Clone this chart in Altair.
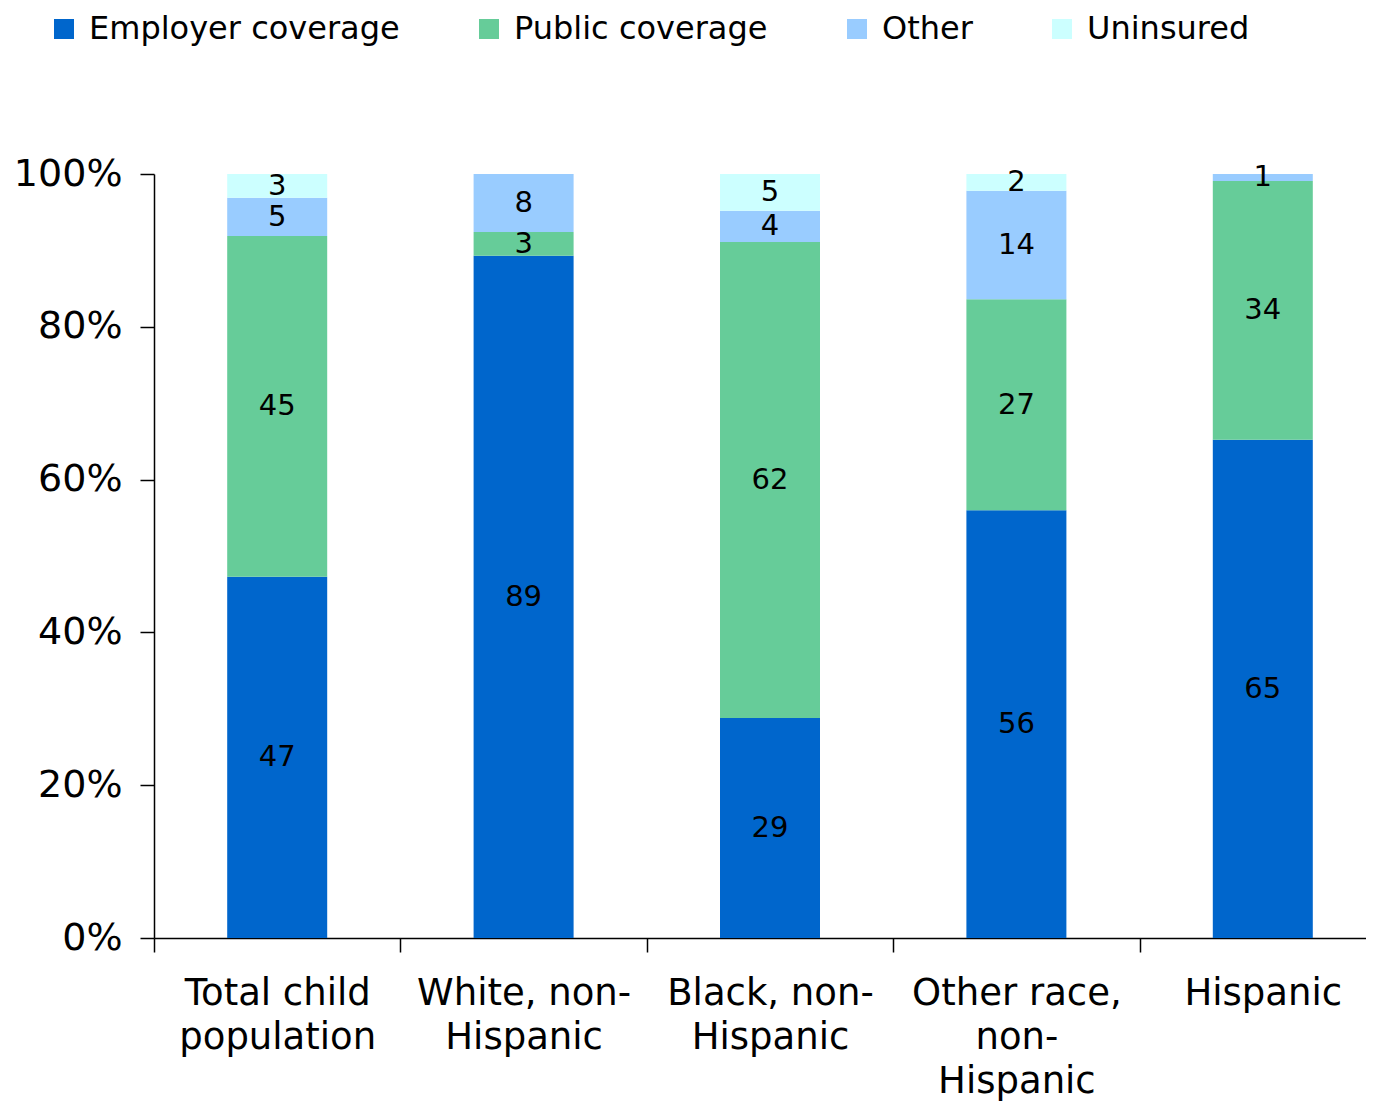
import altair as alt
import pandas as pd

categories = ["Total child population", "White, non-Hispanic", "Black, non-Hispanic",
              "Other race, non-Hispanic", "Hispanic"]
category_lines = [["Total child", "population"], ["White, non-", "Hispanic"],
                  ["Black, non-", "Hispanic"], ["Other race,", "non-", "Hispanic"], ["Hispanic"]]
series = ["Employer coverage", "Public coverage", "Other", "Uninsured"]
colors = ["#0066CC", "#66CC99", "#99CCFF", "#CCFFFF"]

employer = [47.3, 89.3, 28.8, 56.0, 65.2]
public = [44.6, 3.1, 62.3, 27.6, 33.9]
other = [5.0, 7.6, 4.1, 14.2, 0.9]
uninsured = [3.1, 0.0, 4.8, 2.2, 0.0]
labels = [[47, 45, 5, 3], [89, 3, 8, 0], [29, 62, 4, 5], [56, 27, 14, 2], [65, 34, 1, 0]]

rows = []
for si, (name, vals) in enumerate(zip(series, [employer, public, other, uninsured])):
    for ci, cat in enumerate(categories):
        rows.append({"category": cat, "series": name, "value": vals[ci], "order": si,
                     "label": labels[ci][si]})
df = pd.DataFrame(rows)

label_map = "{" + ", ".join(
    "'" + c + "': [" + ", ".join("'" + l + "'" for l in lines) + "]"
    for c, lines in zip(categories, category_lines)) + "}"

FONT = "DejaVu Sans"

base = alt.Chart(df).transform_stack(
    stack="value", as_=["y0", "y1"], groupby=["category"],
    sort=[alt.SortField("order", order="ascending")]
).transform_calculate(mid="(datum.y0 + datum.y1) / 2")

x_enc = alt.X("category:N", sort=categories, title=None,
              scale=alt.Scale(paddingInner=0, paddingOuter=0, range=[0, 1232]),
              axis=alt.Axis(labelExpr=label_map + "[datum.label]", labelAngle=0,
                            tickBand="extent", labelFontSize=37, labelFont=FONT,
                            labelColor="black", labelPadding=23, labelLineHeight=44,
                            labelLimit=0, labelOverlap=False,
                            tickSize=14, tickColor="black", domainColor="black",
                            tickWidth=1.5, domainWidth=1.5, labelBaseline="top"))

bars = base.mark_bar(size=100).encode(
    x=x_enc,
    y=alt.Y("y0:Q", scale=alt.Scale(domain=[0, 100]), title=None,
            axis=alt.Axis(values=[0, 20, 40, 60, 80, 100], labelExpr="datum.value + '%'",
                          grid=False, labelFontSize=38, labelFont=FONT, labelColor="black",
                          tickSize=14, tickColor="black", domainColor="black",
                          tickWidth=1.5, domainWidth=1.5, labelPadding=18, labelLimit=0)),
    y2="y1:Q",
    color=alt.Color("series:N", sort=series,
                    scale=alt.Scale(domain=series, range=colors),
                    legend=alt.Legend(title=None, orient="none", direction="horizontal",
                                      columns=4, legendX=-106, legendY=-161,
                                      symbolType="square", symbolSize=400,
                                      symbolStrokeWidth=0, labelFontSize=32,
                                      labelFont=FONT, labelColor="black", labelLimit=0,
                                      labelOffset=9, columnPadding=73, padding=0)),
)

texts = base.transform_filter("datum.label > 0").mark_text(
    fontSize=29, font=FONT, color="black", baseline="middle"
).encode(
    x=alt.X("category:N", sort=categories),
    y=alt.Y("mid:Q"),
    text=alt.Text("label:Q"),
)

chart = alt.layer(bars, texts).properties(
    width=1212, height=764,
    autosize=alt.AutoSizeParams(type="none"),
    padding={"left": 146, "top": 166, "right": 0, "bottom": 166}
).configure_view(stroke=None)

chart.save("out.html", embed_options={"renderer": "svg", "actions": False})
